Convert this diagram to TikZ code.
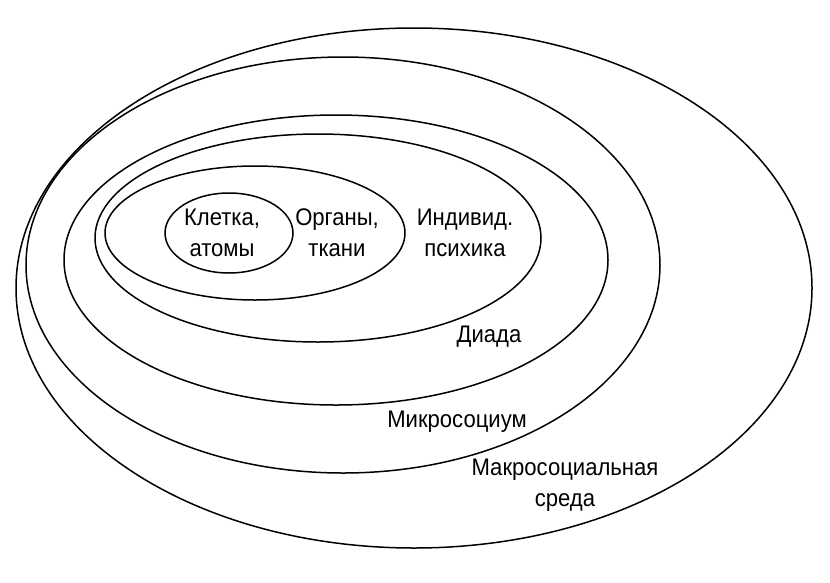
\documentclass[tikz,border=0pt]{standalone}
\usepackage{fontspec}
\setmainfont[FakeStretch=0.92]{Liberation Sans}
\usetikzlibrary{calc}

\tikzset{
  ring/.style={line width=1.5pt},
  lbl/.style={align=center, inner sep=0pt, font=\fontsize{24}{31}\selectfont}
}

\begin{document}
\begin{tikzpicture}[x=1pt,y=-1pt]
	\useasboundingbox (0,0) rectangle (830,582);
	\draw [ring] (414,288) ellipse (398 and 260);
	\draw [ring] (343,265) ellipse (317 and 208);
	\draw [ring] (336,260) ellipse (272 and 145);
	\draw [ring] (318,238) ellipse (223 and 104);
	\draw [ring] (255,233) ellipse (150 and 67);
	\draw [ring] (229,233) ellipse (64 and 40);

	\node [lbl] (cell)  at (222,233) {Клетка,\\атомы};
	\node [lbl] (organ) at (337,233) {Органы,\\ткани};
	\node [lbl] (psych) at (465,233) {Индивид.\\психика};
	\node [lbl] (dyad)  at (489,337) {Диада};
	\node [lbl] (micro) at (457,422) {Микросоциум};
	\node [lbl] (macro) at (565,485) {Макросоциальная\\среда};
\end{tikzpicture}
\end{document}
